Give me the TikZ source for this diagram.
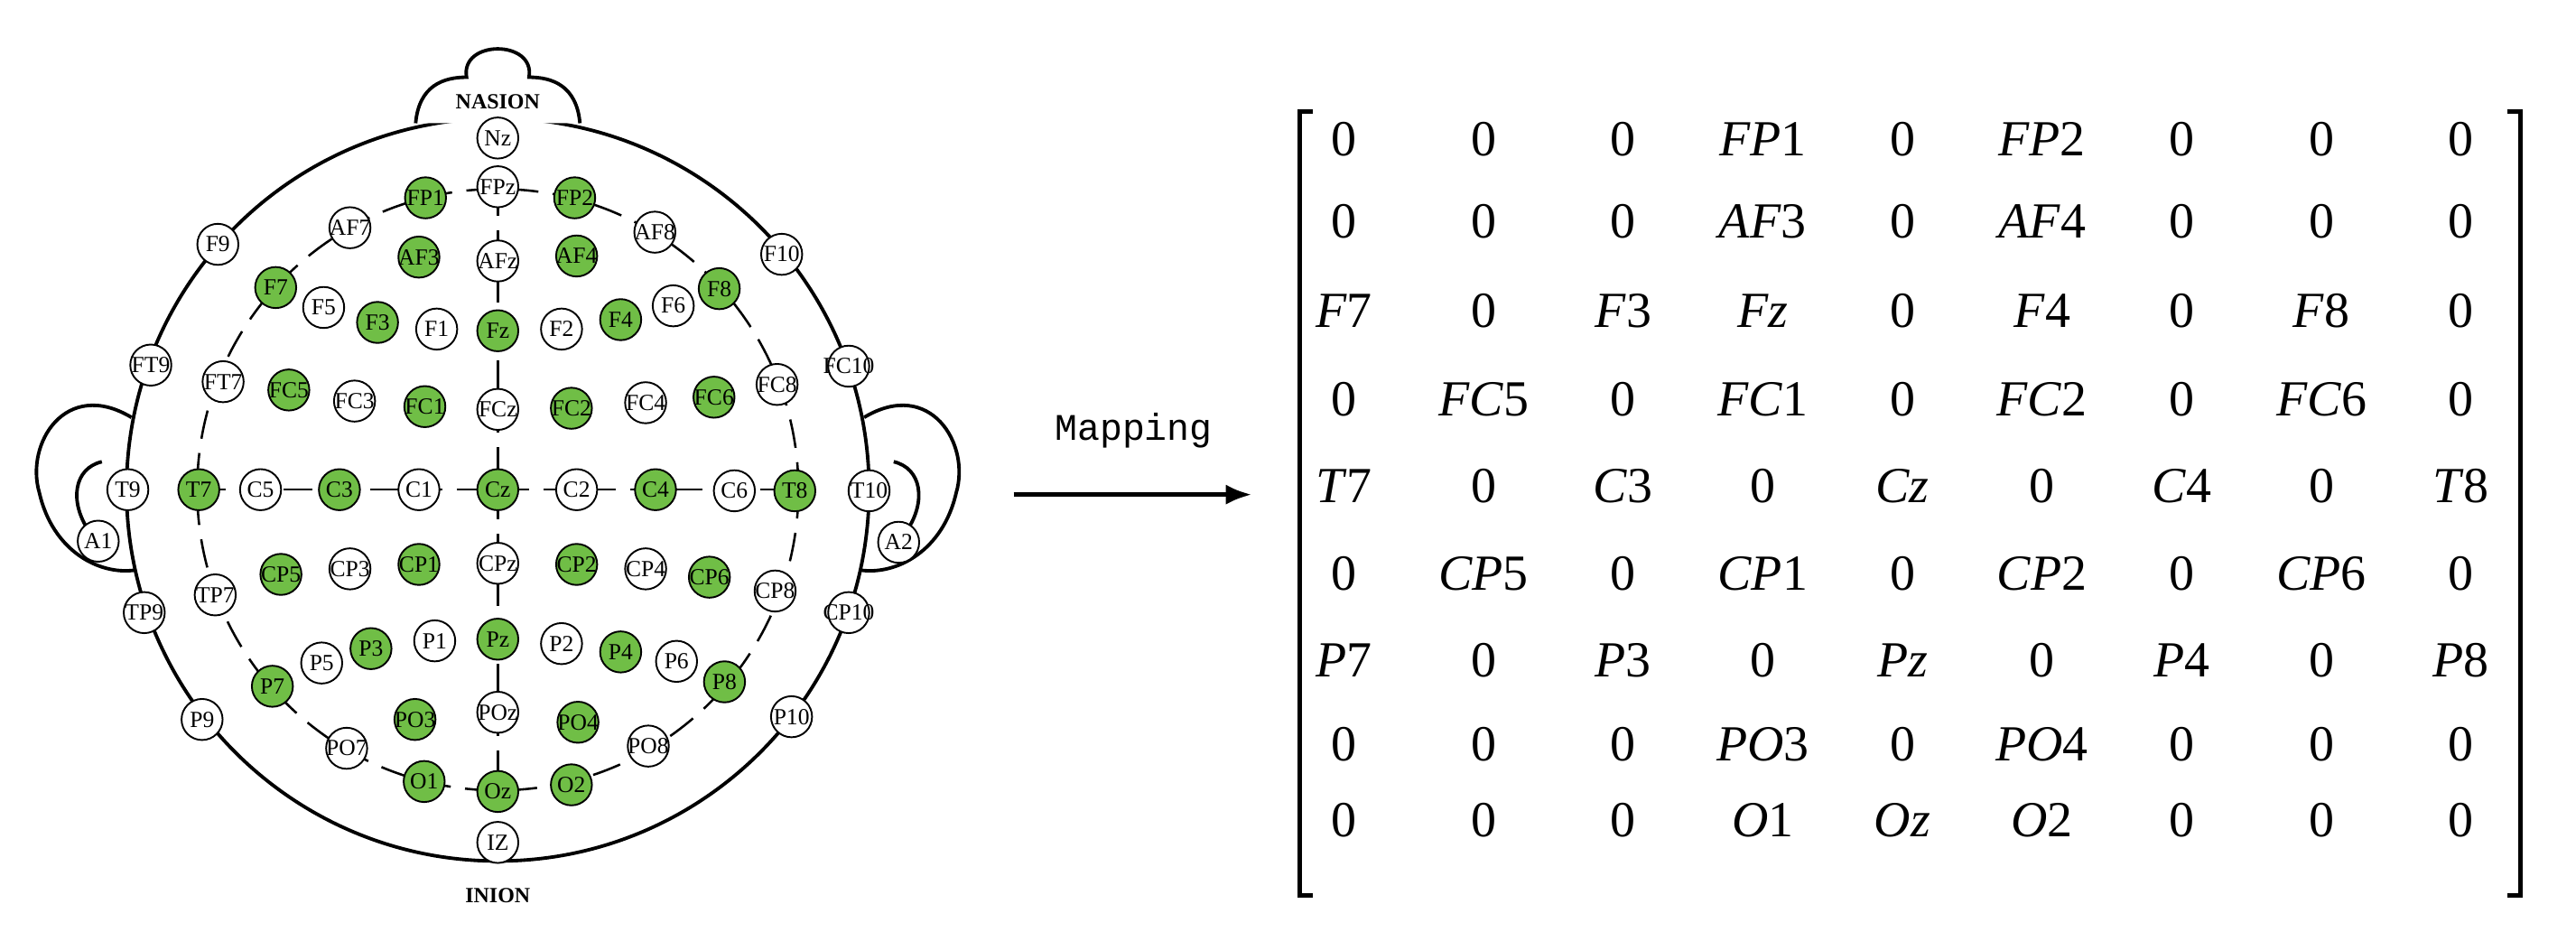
\documentclass[tikz,border=0pt]{standalone}
\usepackage{fontspec}
\usetikzlibrary{arrows.meta}
\setmainfont{Liberation Serif}
\newfontfamily\monof{Liberation Mono}
\definecolor{elg}{RGB}{112,190,70}
\begin{document}
\begin{tikzpicture}[x=0.02cm,y=-0.02cm,
  el/.style={circle,draw,line width=0.6pt,minimum size=0.5cm,inner sep=0pt,font=\fontsize{8}{8}\selectfont},
  g/.style={el,fill=elg},
  w/.style={el,fill=white},
  mt/.style={font=\fontsize{17.5}{20}\selectfont,anchor=base}]
\useasboundingbox (0,0) rectangle (1568,567);
% head
\draw[line width=1.2pt] (303,298) circle (226);
\draw[line width=1.2pt,fill=white] (253,75) .. controls (255,52) and (270,47) .. (284,47)
  .. controls (280,24) and (326,24) .. (322,47) .. controls (336,47) and (351,52) .. (353,75);
\node[font=\fontsize{7.5}{8}\bfseries\selectfont] (nasion) at (303,62) {NASION};
\node[font=\fontsize{7.5}{8}\bfseries\selectfont] (inion) at (303,545) {INION};
% ears
\draw[line width=1.2pt] (80,254) .. controls (40,230) and (15,270) .. (24,300) .. controls (32,335) and (60,350) .. (82,347);
\draw[line width=1.2pt] (62,281) .. controls (45,285) and (42,305) .. (54,323);
\draw[line width=1.2pt] (526,254) .. controls (566,230) and (591,270) .. (582,300) .. controls (574,335) and (546,350) .. (524,347);
\draw[line width=1.2pt] (544,281) .. controls (561,285) and (564,305) .. (552,323);
% guide lines
\draw[line width=0.8pt,dash pattern=on 10pt off 5pt] (303,298) circle (183);
\draw[line width=0.8pt,dash pattern=on 10pt off 5pt] (303,114) -- (303,482);
\draw[line width=0.8pt,dash pattern=on 10pt off 5pt] (120,298) -- (486,298);
% electrodes
\foreach \n/\X/\Y/\s in {
 Nz/748/160/w, FPz/748/248/w, FP1/638/268/g, FP2/865/268/g,
 AF7/523/322/w, AF3/628/375/g, AFz/748/382/w, AF4/868/373/g, AF8/987/330/w,
 F9/322/352/w, F10/1180/370/w,
 F7/410/430/g, F5/483/466/w, F3/565/493/g, F1/655/505/w, Fz/748/508/g, F2/845/505/w, F4/935/488/g, F6/1015/463/w, F8/1085/432/g,
 FT9/220/570/w, FT7/330/600/w, FC5/430/615/g, FC3/530/635/w, FC1/637/645/g, FCz/748/650/w, FC2/860/648/g, FC4/973/638/w, FC6/1077/628/g, FC8/1173/605/w, FC10/1282/572/w,
 T9/185/795/w, T7/293/795/g, C5/387/795/w, C3/507/795/g, C1/628/795/w, Cz/748/795/g, C2/868/795/w, C4/988/795/g, C6/1108/797/w, T8/1200/797/g, T10/1313/797/w,
 A1/140/888/w, A2/1358/890/w,
 TP9/210/1017/w, TP7/318/985/w, CP5/418/948/g, CP3/523/938/w, CP1/628/930/g, CPz/748/928/w, CP2/868/930/g, CP4/973/938/w, CP6/1070/953/g, CP8/1170/978/w, CP10/1282/1017/w,
 P9/298/1210/w, P7/405/1150/g, P5/480/1108/w, P3/555/1082/g, P1/652/1068/w, Pz/748/1065/g, P2/845/1073/w, P4/935/1088/g, P6/1020/1105/w, P8/1093/1142/g, P10/1195/1205/w,
 PO7/518/1262/w, PO3/622/1210/g, POz/748/1197/w, PO4/870/1215/g, PO8/977/1258/w,
 O1/636/1322/g, Oz/748/1340/g, O2/860/1328/g, IZ/748/1432/w}
 \node[\s] (\n) at ({303+(\X-748)*0.4},{298+(\Y-795)*0.337}) {\makebox[0pt]{\n}};
% arrow
\coordinate (as) at (617,301);
\coordinate (ae) at (762,301);
\draw[line width=1.6pt,-{Latex[length=9pt,width=7pt]}] (as) -- (ae);
\node[font=\monof\fontsize{13}{14}\selectfont] (map) at (690,262) {Mapping};
% brackets
\draw[line width=1.6pt] (799,68) -- (791,68) -- (791,545) -- (799,545);
\draw[line width=1.6pt] (1526,68) -- (1534,68) -- (1534,545) -- (1526,545);
% matrix
\foreach \r/\y/\row in {
 1/95/{0,0,0,\textit{FP}1,0,\textit{FP}2,0,0,0},
 2/145/{0,0,0,\textit{AF}3,0,\textit{AF}4,0,0,0},
 3/199/{\textit{F}7,0,\textit{F}3,\textit{Fz},0,\textit{F}4,0,\textit{F}8,0},
 4/253/{0,\textit{FC}5,0,\textit{FC}1,0,\textit{FC}2,0,\textit{FC}6,0},
 5/306/{\textit{T}7,0,\textit{C}3,0,\textit{Cz},0,\textit{C}4,0,\textit{T}8},
 6/359/{0,\textit{CP}5,0,\textit{CP}1,0,\textit{CP}2,0,\textit{CP}6,0},
 7/412/{\textit{P}7,0,\textit{P}3,0,\textit{Pz},0,\textit{P}4,0,\textit{P}8},
 8/463/{0,0,0,\textit{PO}3,0,\textit{PO}4,0,0,0},
 9/509/{0,0,0,\textit{O}1,\textit{Oz},\textit{O}2,0,0,0}}
 {\foreach \e [count=\c] in \row
   \node[mt] (m-\r-\c) at ({818+(\c-1)*85},\y) {\e};}
\end{tikzpicture}
\end{document}
